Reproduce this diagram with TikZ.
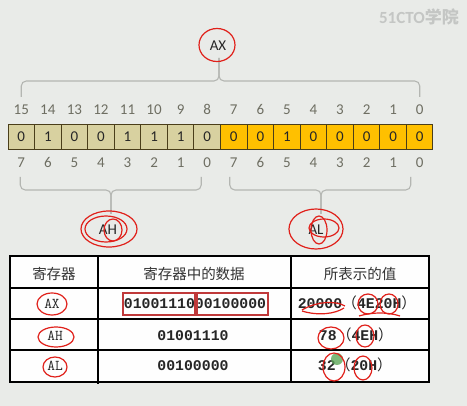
\documentclass[tikz,border=0pt]{standalone}
\usepackage{fontspec}
\setmainfont[Numbers=Lining]{Carlito}
\newfontfamily\cjk{Noto Sans CJK SC}
\newfontfamily\monofnt{Liberation Mono}
\usetikzlibrary{calc}
\definecolor{bgcol}{HTML}{E9EBE8}
\definecolor{khaki}{HTML}{D8D1A0}
\definecolor{amber}{HTML}{FFC000}
\definecolor{cellline}{HTML}{4A3E1A}
\definecolor{numgray}{HTML}{6E6E62}
\definecolor{bracegray}{HTML}{B4B6B2}
\definecolor{inkred}{HTML}{E0201A}
\definecolor{boxred}{HTML}{C0393A}
\definecolor{inkgreen}{HTML}{5FA85A}
\definecolor{wmgray}{HTML}{C4C6C4}
\tikzset{
  bitcell/.style={draw=cellline, line width=1pt, minimum width=26.56pt, minimum height=25pt, inner sep=0pt, text height=9.6pt, text depth=0pt, font=\fontsize{15}{15}\selectfont, text=black!85},
  hibit/.style={bitcell, fill=khaki},
  lobit/.style={bitcell, fill=amber},
  bitnum/.style={inner sep=0pt, text height=9.6pt, text depth=0pt, font=\fontsize{15}{15}\selectfont, text=numgray},
  bracepath/.style={draw=bracegray, line width=1.1pt, rounded corners=5pt},
  regname/.style={inner sep=1pt, text height=9.6pt, text depth=0pt, font=\fontsize{15}{15}\selectfont, text=black!85},
  redink/.style={draw=inkred, line width=1.2pt},
  tabline/.style={draw=black, line width=1.8pt},
  headtxt/.style={inner sep=0pt, font=\cjk\fontsize{14.5}{14.5}\selectfont, text=black!80},
  celltxt/.style={inner sep=0pt, text height=10pt, text depth=0pt, font=\monofnt\bfseries\fontsize{14.8}{15}\selectfont, text=black!85},
  regtxt/.style={inner sep=0pt, text height=10pt, text depth=0pt, font=\ttfamily\fontsize{15}{15}\selectfont, text=black!85},
}
\begin{document}
\begin{tikzpicture}[x=1pt,y=-1pt]
\fill[bgcol] (0,0) rectangle (467,406);
\useasboundingbox (0,0) rectangle (467,406);
% watermark
\node[inner sep=0pt, text=wmgray, font=\bfseries\fontsize{17}{17}\selectfont] (wm) at (419,17) {51CTO{\cjk 学院}};
% bit cells
\foreach \i/\b in {0/0,1/1,2/0,3/0,4/1,5/1,6/1,7/0}{
  \node[hibit] (c\i) at ({8+26.5625*(\i+0.5)},137) {\b};
}
\foreach \i/\b in {8/0,9/0,10/1,11/0,12/0,13/0,14/0,15/0}{
  \node[lobit] (c\i) at ({8+26.5625*(\i+0.5)},137) {\b};
}
% bit numbers
\foreach \i in {0,...,15}{
  \pgfmathtruncatemacro{\t}{15-\i}
  \pgfmathtruncatemacro{\s}{mod(15-\i,8)}
  \node[bitnum] (t\i) at ({8+26.5625*(\i+0.5)},110) {\t};
  \node[bitnum] (b\i) at ({8+26.5625*(\i+0.5)},163) {\s};
}
% register names
\node[regname] (AX) at (218,46) {AX};
\node[regname] (AH) at (108,230) {AH};
\node[regname] (AL) at (316,230) {AL};
% braces
\coordinate (tlow) at (0,97);
\coordinate (tmid) at (0,81);
\coordinate (blow) at (0,177);
\coordinate (bmid) at (0,190);
\draw[bracepath] (t0 |- tlow) -- (t0 |- tmid) -- ([xshift=1pt]AX |- tmid) -- ([xshift=1pt,yshift=-6pt]AX.south);
\draw[bracepath] (t15 |- tlow) -- (t15 |- tmid) -- ([xshift=1pt]AX |- tmid) -- ([xshift=1pt,yshift=-6pt]AX.south);
\draw[bracepath] ([xshift=-1pt]b0 |- blow) -- ([xshift=-1pt]b0 |- bmid) -- ([xshift=3pt]AH |- bmid) -- ([xshift=3pt,yshift=10pt]AH.north);
\draw[bracepath] ([xshift=-6pt]b7 |- blow) -- ([xshift=-6pt]b7 |- bmid) -- ([xshift=3pt]AH |- bmid) -- ([xshift=3pt,yshift=10pt]AH.north);
\draw[bracepath] ([xshift=-4pt]b8 |- blow) -- ([xshift=-4pt]b8 |- bmid) -- ([xshift=5pt]AL |- bmid) -- ([xshift=5pt,yshift=10pt]AL.north);
\draw[bracepath] ([xshift=-9pt]b15 |- blow) -- ([xshift=-9pt]b15 |- bmid) -- ([xshift=5pt]AL |- bmid) -- ([xshift=5pt,yshift=10pt]AL.north);
% red annotations on top part
\draw[redink] (217,45) ellipse [x radius=18, y radius=16.5];
\draw[redink] (109,229) ellipse [x radius=28, y radius=18];
\draw[redink] (106,229) ellipse [x radius=21, y radius=13];
\draw[redink] (113,230) ellipse [x radius=9, y radius=11];
\draw[redink] (316,229) ellipse [x radius=27, y radius=20];
\draw[redink] (319,230) ellipse [x radius=8, y radius=14];
\draw[redink] (324,228) ellipse [x radius=15, y radius=9];
% table
\fill[white!97!bgcol] (10,256) rectangle (429,382);
\draw[tabline] (10,256) rectangle (429,382);
\draw[tabline] (98,256) -- (98,384);
\draw[tabline] (291,256) -- (291,382);
\draw[tabline] (10,288) -- (429,288);
\draw[tabline] (10,319) -- (429,319);
\draw[tabline] (10,350) -- (429,350);
\node[headtxt] (h1) at (54,274) {寄存器};
\node[headtxt] (h2) at (194,274) {寄存器中的数据};
\node[headtxt] (h3) at (360,274) {所表示的值};
\node[regtxt] (rax) at (52,304) {AX};
\node[regtxt] (rah) at (55,336) {AH};
\node[regtxt] (ral) at (55,366) {AL};
\node[celltxt] (dax) at (195,304) {0100111000100000};
\node[celltxt] (dah) at (193,336) {01001110};
\node[celltxt] (dal) at (193,366) {00100000};
\node[celltxt] (vax) at (357,304) {20000{\cjk\mdseries （}4E20H{\cjk\mdseries ）}};
\node[celltxt] (vah) at (356,336) {78{\cjk\mdseries （}4EH{\cjk\mdseries ）}};
\node[celltxt] (val) at (355,366) {32{\cjk\mdseries （}20H{\cjk\mdseries ）}};
% red boxes around bit halves
\draw[boxred, line width=1.1pt] (123,293) rectangle (195,315);
\draw[boxred, line width=1.1pt] (197,293) rectangle (268,315);
% red annotations in table
\draw[redink] (52,304) ellipse [x radius=15, y radius=11];
\draw[redink] (56,337) ellipse [x radius=18, y radius=10];
\draw[redink] (55,367) ellipse [x radius=12, y radius=10];
\draw[redink] (302,310) .. controls (315,302) and (335,300) .. (345,306);
\draw[redink] (302,311) .. controls (318,316) and (335,314) .. (344,308);
\draw[redink] (368,304) ellipse [x radius=10, y radius=10];
\draw[redink] (389,304) ellipse [x radius=9, y radius=10];
\draw[redink] (359,316) .. controls (372,312) and (388,312) .. (400,316);
\draw[redink] (331,338) ellipse [x radius=13, y radius=11];
\draw[redink] (365,336) ellipse [x radius=9, y radius=11];
\fill[inkgreen, opacity=0.8] (337,359) circle [radius=6];
\draw[redink] (334,367) ellipse [x radius=11, y radius=14];
\draw[redink] (363,368) ellipse [x radius=9, y radius=12];
\end{tikzpicture}
\end{document}
